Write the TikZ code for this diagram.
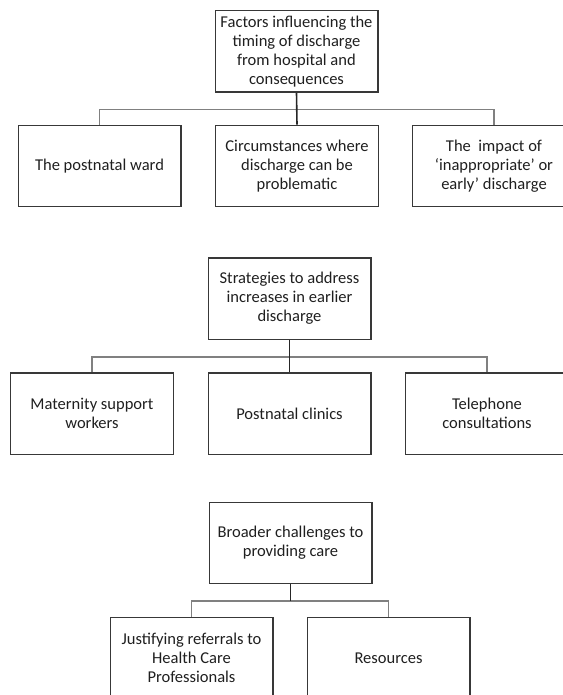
\documentclass[tikz,border=0pt]{standalone}
\usepackage{fontspec}
\setmainfont{Carlito}
\usepackage{tikz}
\usetikzlibrary{positioning,calc}

\begin{document}
\begin{tikzpicture}[x=0.75pt, y=-0.75pt,
  box/.style={draw=black!78, line width=1pt, minimum width=122pt, minimum height=61pt,
              font=\fontsize{12.4}{14.3}\selectfont, text=black!88, align=center, inner sep=1pt},
  bus/.style={draw=black!50, line width=1.2pt},
  drop/.style={draw=black!85, line width=1.2pt}
]
\useasboundingbox (0,0) rectangle (563,695);

%% Factors
\node[box] (ft) at (296.5, 51.5) {Factors influencing the\\timing of discharge\\from hospital and\\consequences};
\node[box] (fa) at ( 99.5,166)   {The postnatal ward};
\node[box] (fb) at (297,  166)   {Circumstances where\\discharge can be\\problematic};
\node[box] (fc) at (494,  166)   {The\ \ impact of\\‘inappropriate’ or\\early’ discharge};
\coordinate (fbus) at (296.5,109.5);
\draw[bus]  (fa.north) |- (fbus) -| (fc.north);
\draw[drop] (ft.south) -- (fb.north);

%% Strategies
\node[box] (st) at (289.5,298.5) {Strategies to address\\increases in earlier\\discharge};
\node[box] (sa) at ( 92,  413.5) {Maternity support\\workers};
\node[box] (sb) at (289.5,413.5) {Postnatal clinics};
\node[box] (sc) at (487,  413.5) {Telephone\\consultations};
\coordinate (sbus) at (289.5,357);
\draw[bus]  (sa.north) |- (sbus) -| (sc.north);
\draw[drop] (st.south) -- (sb.north);

%% Broader challenges
\node[box] (bt) at (290.5,543) {Broader challenges to\\providing care};
\node[box] (ba) at (191.5,658) {Justifying referrals to\\Health Care\\Professionals};
\node[box] (bb) at (388.5,658) {Resources};
\coordinate (bbus) at (290.5,601);
\draw[bus]  (ba.north) |- (bbus) -| (bb.north);
\draw[drop] (bt.south) -- (bbus);
\end{tikzpicture}
\end{document}
